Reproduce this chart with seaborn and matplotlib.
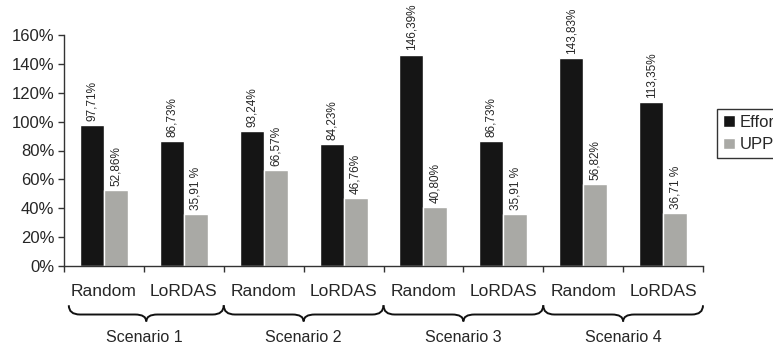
import pandas as pd
import matplotlib.pyplot as plt
import seaborn as sns
from matplotlib.path import Path
from matplotlib.patches import PathPatch
import matplotlib.transforms as mtransforms

# ============================================================
# 1. DATA
# ============================================================

categories = ["S1 Random", "S1 LoRDAS", "S2 Random", "S2 LoRDAS",
              "S3 Random", "S3 LoRDAS", "S4 Random", "S4 LoRDAS"]
tick_labels = ["Random", "LoRDAS"] * 4
scenarios = ["Scenario 1", "Scenario 2", "Scenario 3", "Scenario 4"]

effort = [97.71, 86.73, 93.24, 84.23, 146.39, 86.73, 143.83, 113.35]
upp = [52.86, 35.91, 66.57, 46.76, 40.80, 35.91, 56.82, 36.71]

effort_labels = ["97,71%", "86,73%", "93,24%", "84,23%",
                 "146,39%", "86,73%", "143,83%", "113,35%"]
upp_labels = ["52,86%", "35,91 %", "66,57%", "46,76%",
              "40,80%", "35,91 %", "56,82%", "36,71 %"]

series_names = ["Effort", "UPP"]

df = pd.DataFrame({
    "cat": categories * 2,
    "value": [v / 100 for v in effort + upp],
    "series": [series_names[0]] * len(effort) + [series_names[1]] * len(upp),
})

# ============================================================
# 2. PLOT
# ============================================================

sns.set_style("white")
plt.rcParams['font.family'] = ['Liberation Sans', 'DejaVu Sans']

fig = plt.figure(figsize=(7.73, 3.51), dpi=100)
ax = fig.add_axes([64 / 773, 1 - 266 / 351, 639 / 773, 231 / 351])

sns.barplot(data=df, x="cat", y="value", hue="series", order=categories,
            hue_order=series_names, palette=["#151515", "#a9a9a5"],
            width=0.6, saturation=1, ax=ax, legend=True)

ax.set_ylim(0, 1.6)
ax.set_xlim(-0.5, len(categories) - 0.5)
ax.set_yticks([i * 0.2 for i in range(9)])
ax.set_yticklabels([f"{i * 20}%" for i in range(9)], fontsize=12)
ax.set_xticks(range(len(categories)))
ax.set_xticklabels(tick_labels, fontsize=12.5)
ax.set_xticks([i - 0.5 for i in range(len(categories) + 1)], minor=True)
ax.tick_params(axis="x", which="major", length=0, pad=13)
ax.tick_params(axis="x", which="minor", length=4, width=1, color="#333333",
               direction="out", bottom=True)
ax.tick_params(axis="y", length=4, width=1, color="#333333", direction="out",
               left=True, pad=3)
ax.set_xlabel("")
ax.set_ylabel("")
for side in ["top", "right"]:
    ax.spines[side].set_visible(False)
for side in ["left", "bottom"]:
    ax.spines[side].set_color("#333333")
    ax.spines[side].set_linewidth(1)

# data labels
ax.bar_label(ax.containers[0], labels=effort_labels, rotation=90,
             padding=3, fontsize=8.5)
ax.bar_label(ax.containers[1], labels=upp_labels, rotation=90,
             padding=3, fontsize=8.5)

# ============================================================
# 3. BRACES + SCENARIO LABELS
# ============================================================

trans = mtransforms.blended_transform_factory(ax.transData, ax.transAxes)
yt, ym, yb = -0.17, -0.21, -0.24
q = 0.14
for i, name in enumerate(scenarios):
    x0 = 2 * i - 0.5 + (0.06 if i == 0 else 0)
    x1 = 2 * i + 1.5
    xm = (x0 + x1) / 2
    verts = [(x0, yt), (x0, ym), (x0 + q, ym),
             (xm - q, ym),
             (xm, ym), (xm, yb),
             (xm, ym), (xm + q, ym),
             (x1 - q, ym),
             (x1, ym), (x1, yt)]
    codes = [Path.MOVETO, Path.CURVE3, Path.CURVE3,
             Path.LINETO,
             Path.CURVE3, Path.CURVE3,
             Path.CURVE3, Path.CURVE3,
             Path.LINETO,
             Path.CURVE3, Path.CURVE3]
    patch = PathPatch(Path(verts, codes), transform=trans, fill=False,
                      lw=1.4, edgecolor="#111111", clip_on=False)
    ax.add_patch(patch)
    ax.text(2 * i + 0.5, -0.31, name, transform=trans, ha="center",
            va="center", fontsize=11.5)

# ============================================================
# 4. LEGEND
# ============================================================

leg = ax.legend(loc="upper left", bbox_to_anchor=(717 / 773, 1 - 109 / 351),
                bbox_transform=fig.transFigure, frameon=True, fancybox=False,
                fontsize=12, handlelength=0.7, handleheight=0.7,
                handletextpad=0.3, borderpad=0.35, labelspacing=0.45,
                borderaxespad=0)
leg.get_frame().set_edgecolor("black")
leg.get_frame().set_linewidth(1)

fig.savefig("out.png", dpi=100)
